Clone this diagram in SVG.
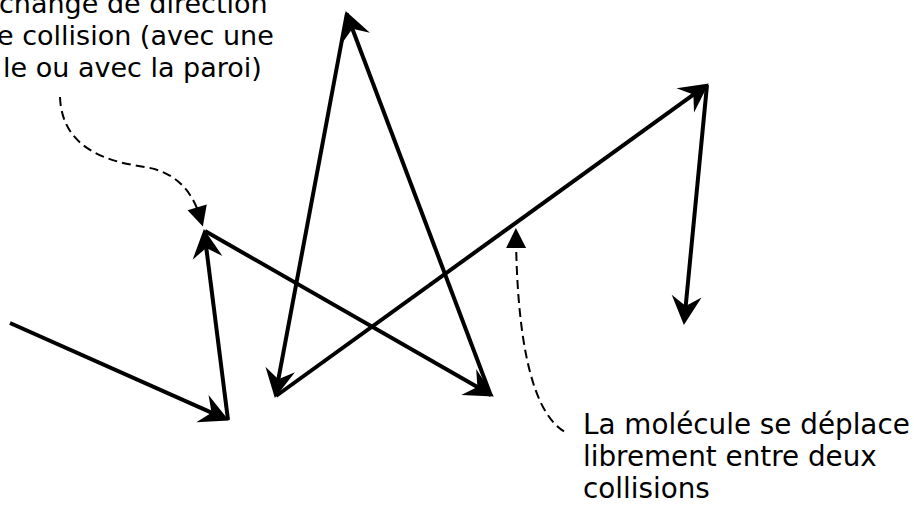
<svg xmlns="http://www.w3.org/2000/svg" width="914" height="506" viewBox="0 0 914 506">
<style>
.txt{font-family:"DejaVu Sans","Liberation Sans",sans-serif;font-size:27px;fill:#000}
.big{font-size:27.8px}
.seg{fill:none;stroke:#000;stroke-width:4;marker-end:url(#head)}
.dash{fill:none;stroke:#000;stroke-width:2;stroke-dasharray:9 5}
</style>
<defs>
<marker id="head" markerUnits="userSpaceOnUse" orient="auto" refX="0" refY="0" markerWidth="40" markerHeight="40" overflow="visible">
<path d="M16,0 L-13,-15 L-3,0 L-13,15 Z" fill="#000"/>
</marker>
<marker id="dhead" markerUnits="userSpaceOnUse" orient="auto-start-reverse" refX="0" refY="0" markerWidth="30" markerHeight="30" overflow="visible">
<path d="M10,0 L-10,-10 L-10,10 Z" fill="#000"/>
</marker>
</defs>
<rect width="914" height="506" fill="#fff"/>
<g id="connectors">
<line class="seg" x1="10" y1="323" x2="214.3" y2="413.9"/>
<line class="seg" x1="228" y1="420" x2="205.9" y2="244.9"/>
<line class="seg" x1="205" y1="231" x2="480" y2="388.5"/>
<line class="seg" x1="491" y1="396" x2="351.3" y2="26"/>
<line class="seg" x1="347" y1="13" x2="277.8" y2="382.3"/>
<line class="seg" x1="276" y1="396" x2="695.8" y2="92.8"/>
<line class="seg" x1="707" y1="85" x2="685.4" y2="309.1"/>
<path class="dash" d="M60,97 C62,150 110,162 145,167 C175,172 192,190 200,217" marker-end="url(#dhead)"/>
<path class="dash" d="M516,238 C517,320 527,410 565,432" marker-start="url(#dhead)"/>
</g>
<g id="label-collision">
<text class="txt" x="-1" y="13">change de direction</text>
<text class="txt" x="-3" y="45">e collision (avec une</text>
<text class="txt" x="3" y="77">le ou avec la paroi)</text>
</g>
<g id="label-libre">
<text class="txt big" x="583" y="434">La molécule se déplace</text>
<text class="txt big" x="583" y="466">librement entre deux</text>
<text class="txt big" x="583" y="498">collisions</text>
</g>
</svg>
